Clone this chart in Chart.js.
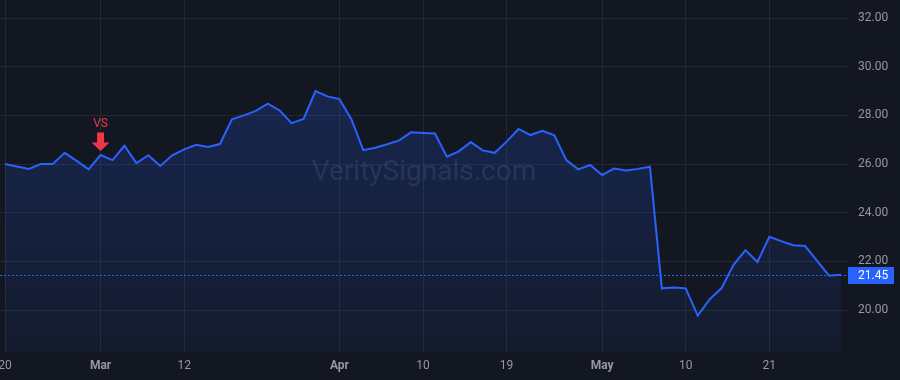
<!DOCTYPE html>
<html><head><meta charset="utf-8">
<script src="https://cdn.jsdelivr.net/npm/chart.js@4.4.1/dist/chart.umd.min.js"></script>
<style>html,body{margin:0;padding:0;background:#131722;overflow:hidden;} canvas{display:block;}</style>
</head><body>
<canvas id="c" width="900" height="380"></canvas>
<script>
// ---- data ----
const dates = [
  '2024-02-20','2024-02-21','2024-02-22','2024-02-23','2024-02-26','2024-02-27','2024-02-28','2024-02-29',
  '2024-03-01','2024-03-04','2024-03-05','2024-03-06','2024-03-07','2024-03-08','2024-03-11','2024-03-12',
  '2024-03-13','2024-03-14','2024-03-15','2024-03-18','2024-03-19','2024-03-20','2024-03-21','2024-03-22',
  '2024-03-25','2024-03-26','2024-03-27','2024-03-28',
  '2024-04-01','2024-04-02','2024-04-03','2024-04-04','2024-04-05','2024-04-08','2024-04-09','2024-04-10',
  '2024-04-11','2024-04-12','2024-04-15','2024-04-16','2024-04-17','2024-04-18','2024-04-19','2024-04-22',
  '2024-04-23','2024-04-24','2024-04-25','2024-04-26','2024-04-29','2024-04-30',
  '2024-05-01','2024-05-02','2024-05-03','2024-05-06','2024-05-07','2024-05-08','2024-05-09','2024-05-10',
  '2024-05-13','2024-05-14','2024-05-15','2024-05-16','2024-05-17','2024-05-20','2024-05-21','2024-05-22',
  '2024-05-23','2024-05-24','2024-05-28','2024-05-29','2024-05-30'
];
const prices = [
  26.00,25.90,25.80,26.00,26.00,26.46,26.13,25.78,
  26.37,26.16,26.75,26.04,26.36,25.92,26.36,26.60,
  26.79,26.70,26.82,27.84,28.00,28.18,28.48,28.20,
  27.68,27.85,29.00,28.78,
  28.67,27.84,26.57,26.67,26.81,26.97,27.30,27.27,
  27.25,26.30,26.52,26.90,26.56,26.46,26.92,27.44,
  27.19,27.36,27.18,26.16,25.78,25.96,
  25.55,25.81,25.73,25.80,25.89,20.89,20.92,20.89,
  19.77,20.44,20.90,21.86,22.46,21.97,23.01,22.83,
  22.66,22.63,22.02,21.41,21.45
];
const xTickDates  = ['2024-02-20','2024-03-01','2024-03-12','2024-04-01','2024-04-10','2024-04-19','2024-05-01','2024-05-10','2024-05-21'];
const xTickLabels = ['20','Mar','12','Apr','10','19','May','10','21'];
const yTicks = [20,22,24,26,28,30,32];
const markerDates = ['2024-03-01'];
const markerTexts = ['VS'];
const watermarkText = 'VeritySignals.com';

// ---- styling ----
const FONT = 'Roboto, "Liberation Sans", Arial, sans-serif';
const BLUE = '#2962ff';
const RED = '#f23645';
const BG = '#131722';
const GRID = '#242832';
const TEXT = '#9598a1';
const lastPrice = prices[prices.length - 1];

const points = prices.map((v, i) => ({x: i, y: v}));

const bgPlugin = {
  id: 'bg',
  beforeDraw(chart) {
    const c = chart.ctx;
    c.save(); c.fillStyle = BG; c.fillRect(0, 0, chart.width, chart.height); c.restore();
  }
};

const underlayPlugin = {
  id: 'underlay',
  beforeDatasetsDraw(chart) {
    const c = chart.ctx, ca = chart.chartArea;
    const y = chart.scales.y.getPixelForValue(lastPrice);
    c.save();
    // watermark
    c.font = '28px ' + FONT;
    c.fillStyle = 'rgba(140,146,165,0.18)';
    c.textAlign = 'center';
    c.textBaseline = 'middle';
    c.fillText(watermarkText, (ca.left + ca.right) / 2, (ca.top + ca.bottom) / 2 - 3);
    // last price dotted line
    c.strokeStyle = BLUE;
    c.lineWidth = 1;
    c.setLineDash([2, 2]);
    c.beginPath();
    c.moveTo(ca.left, Math.round(y) + 0.5);
    c.lineTo(ca.right, Math.round(y) + 0.5);
    c.stroke();
    c.restore();
  }
};

const overlayPlugin = {
  id: 'overlay',
  afterDraw(chart) {
    const c = chart.ctx, ca = chart.chartArea;
    const xs = chart.scales.x, ys = chart.scales.y;
    c.save();
    // price label
    const py = ys.getPixelForValue(lastPrice);
    c.fillStyle = BLUE;
    c.fillRect(ca.right, Math.round(py) - 8, 46, 17);
    c.fillStyle = '#ffffff';
    c.font = '12px ' + FONT;
    c.textAlign = 'left';
    c.textBaseline = 'middle';
    c.fillText(lastPrice.toFixed(2), ca.right + 10, Math.round(py) + 0.5);
    // markers
    markerDates.forEach((d, k) => {
      const i = dates.indexOf(d);
      const mx = xs.getPixelForValue(i), my = ys.getPixelForValue(prices[i]);
      c.fillStyle = RED;
      c.fillRect(mx - 3.5, my - 22.5, 7, 10.5);
      c.beginPath();
      c.moveTo(mx - 9, my - 12.5);
      c.lineTo(mx + 9, my - 12.5);
      c.lineTo(mx, my - 4);
      c.closePath();
      c.fill();
      c.font = '12px ' + FONT;
      c.textAlign = 'center';
      c.textBaseline = 'middle';
      c.fillText(markerTexts[k], mx, my - 31);
    });
    c.restore();
  }
};

new Chart(document.getElementById('c'), {
  type: 'line',
  data: {
    datasets: [{
      data: points,
      borderColor: BLUE,
      borderWidth: 2,
      pointRadius: 0,
      tension: 0,
      fill: 'start',
      backgroundColor: (ctx) => {
        const ca = ctx.chart.chartArea;
        if (!ca) return 'rgba(41,98,255,0.15)';
        const g = ctx.chart.ctx.createLinearGradient(0, ca.top, 0, ca.bottom);
        g.addColorStop(0, 'rgba(41,98,255,0.26)');
        g.addColorStop(1, 'rgba(41,98,255,0.05)');
        return g;
      }
    }]
  },
  options: {
    responsive: false,
    devicePixelRatio: 1,
    animation: false,
    events: [],
    layout: { padding: 0 },
    plugins: { legend: { display: false }, tooltip: { enabled: false } },
    scales: {
      x: {
        type: 'linear',
        bounds: 'data',
        min: -0.419,
        max: 70.586,
        grid: { color: GRID, drawTicks: false, lineWidth: 1 },
        border: { display: false },
        afterBuildTicks: (s) => { s.ticks = xTickDates.map(d => ({ value: dates.indexOf(d) })); },
        afterFit: (s) => { s.height = 28; s.paddingLeft = 0; s.paddingRight = 0; },
        ticks: {
          autoSkip: false,
          maxRotation: 0,
          padding: 7,
          color: TEXT,
          font: (ctx) => {
            const idx = xTickDates.indexOf(dates[ctx.tick ? ctx.tick.value : 0]);
            const lab = xTickLabels[idx] || '';
            return { family: FONT, size: 12, weight: isNaN(Number(lab)) ? 'bold' : 'normal' };
          },
          callback: (v) => { const k = xTickDates.indexOf(dates[v]); return k >= 0 ? xTickLabels[k] : ''; }
        }
      },
      y: {
        type: 'linear',
        position: 'right',
        bounds: 'data',
        min: 18.274,
        max: 32.74,
        grid: { color: GRID, drawTicks: false, lineWidth: 1 },
        border: { display: false },
        afterBuildTicks: (s) => { s.ticks = yTicks.map(v => ({ value: v })); },
        afterFit: (s) => { s.width = 52; s.paddingTop = 0; s.paddingBottom = 0; },
        ticks: {
          padding: 10,
          color: TEXT,
          font: { family: FONT, size: 12 },
          callback: (v) => Number(v).toFixed(2)
        }
      }
    }
  },
  plugins: [bgPlugin, underlayPlugin, overlayPlugin]
});
</script>
</body></html>
